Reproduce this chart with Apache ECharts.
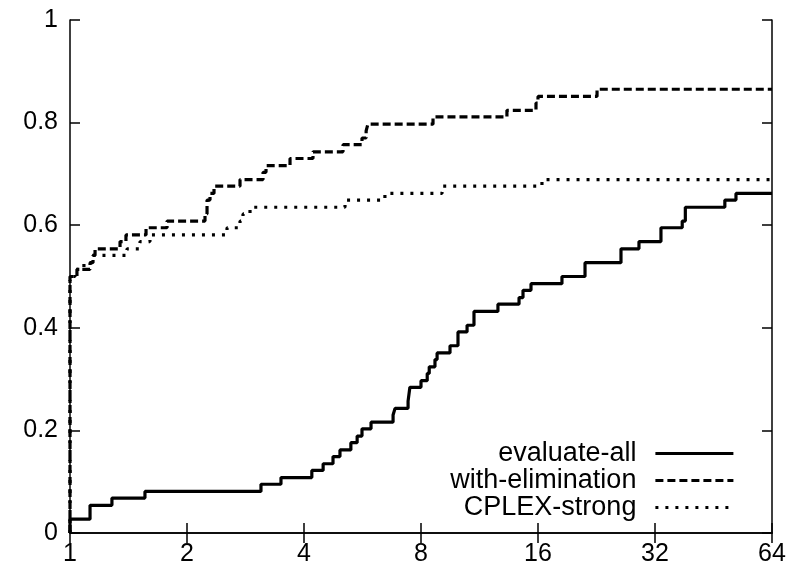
<!DOCTYPE html>
<html>
<head>
<meta charset="utf-8">
<script src="https://cdn.jsdelivr.net/npm/echarts@6/dist/echarts.min.js"></script>
<style>html,body{margin:0;padding:0;background:#fff}#c{width:796px;height:578px}</style>
</head>
<body>
<div id="c"></div>
<script>
// Performance-profile data (x = ratio, y = fraction of instances); each value holds from its x onward
const xTicks = [1, 2, 4, 8, 16, 32, 64];
const seriesNames = ['evaluate-all', 'with-elimination', 'CPLEX-strong'];

const evalAllX = [1, 1, 1.126, 1.282, 1.559, 3.10, 3.49, 4.19, 4.48, 4.75, 4.95, 5.28, 5.48, 5.64, 5.95, 6.78, 6.86, 7.41, 7.49, 8.0, 8.30, 8.40, 8.69, 8.80, 9.50, 9.96, 10.51, 10.95, 12.62, 14.30, 14.64, 15.35, 18.44, 21.14, 26.16, 29.10, 33.15, 37.6, 38.3, 48.4, 51.7, 64];
const evalAllY = [0, 0.027, 0.054, 0.068, 0.081, 0.095, 0.108, 0.122, 0.135, 0.149, 0.162, 0.176, 0.189, 0.203, 0.216, 0.230, 0.243, 0.257, 0.284, 0.297, 0.311, 0.324, 0.338, 0.351, 0.365, 0.392, 0.405, 0.432, 0.446, 0.459, 0.473, 0.486, 0.500, 0.527, 0.554, 0.568, 0.595, 0.608, 0.635, 0.649, 0.662, 0.662];

const elimX = [1, 1, 1.042, 1.126, 1.146, 1.160, 1.345, 1.393, 1.569, 1.777, 2.225, 2.252, 2.292, 2.347, 2.738, 3.138, 3.194, 3.682, 4.219, 5.04, 5.64, 5.78, 5.84, 8.59, 13.31, 15.81, 16.0, 22.7, 64];
const elimY = [0, 0.500, 0.514, 0.527, 0.541, 0.554, 0.568, 0.581, 0.595, 0.608, 0.622, 0.649, 0.662, 0.676, 0.689, 0.703, 0.716, 0.730, 0.743, 0.757, 0.770, 0.784, 0.797, 0.811, 0.824, 0.838, 0.851, 0.865, 0.865];

const cplexX = [1, 1, 1.030, 1.086, 1.139, 1.402, 1.514, 1.606, 2.535, 2.738, 2.787, 2.905, 5.10, 6.46, 9.06, 16.38, 64];
const cplexY = [0, 0.500, 0.514, 0.527, 0.541, 0.554, 0.568, 0.581, 0.595, 0.608, 0.622, 0.635, 0.649, 0.662, 0.676, 0.689, 0.689];

function zip(xs, ys) { return xs.map((x, i) => [x, ys[i]]); }

const FONT = 'Liberation Sans, Arial, sans-serif';
const axisLine = { show: true, lineStyle: { color: '#000', width: 1.5 } };
const tick = { show: true, inside: true, length: 10, lineStyle: { color: '#000', width: 1.5 } };

const chart = echarts.init(document.getElementById('c'), null, { renderer: 'canvas' });
chart.setOption({
  animation: false,
  backgroundColor: '#fff',
  grid: { left: 70, right: 24, top: 20, bottom: 45 },
  xAxis: [
    {
      type: 'log', logBase: 2, min: xTicks[0], max: xTicks[xTicks.length - 1], position: 'bottom',
      axisLine: axisLine, axisTick: tick, splitLine: { show: false }, minorTick: { show: false },
      axisLabel: { color: '#000', fontSize: 25, fontFamily: FONT, margin: 9, formatter: v => String(Math.round(v)) }
    },
    {
      type: 'log', logBase: 2, min: xTicks[0], max: xTicks[xTicks.length - 1], position: 'top',
      axisLine: axisLine, axisTick: tick, splitLine: { show: false }, axisLabel: { show: false }
    }
  ],
  yAxis: [
    {
      type: 'value', min: 0, max: 1, interval: 0.2, position: 'left',
      axisLine: axisLine, axisTick: tick, splitLine: { show: false },
      axisLabel: { color: '#000', fontSize: 25, fontFamily: FONT, margin: 12 }
    },
    {
      type: 'value', min: 0, max: 1, interval: 0.2, position: 'right',
      axisLine: axisLine, axisTick: tick, splitLine: { show: false }, axisLabel: { show: false }
    }
  ],
  legend: {
    orient: 'vertical', align: 'right', right: 61, top: 440, padding: 0, itemGap: 0,
    itemWidth: 78, itemHeight: 14,
    itemStyle: { color: 'rgba(0,0,0,0)', borderWidth: 0, opacity: 0 },
    lineStyle: { width: 3.2 },
    textStyle: { color: '#000', fontSize: 27, fontFamily: FONT, lineHeight: 27, padding: [0, 14, 0, 0] },
    data: seriesNames
  },
  series: [
    {
      name: seriesNames[0], type: 'line', step: 'end', symbol: 'none',
      data: zip(evalAllX, evalAllY),
      lineStyle: { color: '#000', width: 3.2, type: 'solid' }, itemStyle: { color: '#000' }
    },
    {
      name: seriesNames[1], type: 'line', step: 'end', symbol: 'none',
      data: zip(elimX, elimY),
      lineStyle: { color: '#000', width: 3.2, type: [8, 4] }, itemStyle: { color: '#000' }
    },
    {
      name: seriesNames[2], type: 'line', step: 'end', symbol: 'none',
      data: zip(cplexX, cplexY),
      lineStyle: { color: '#000', width: 3.2, type: [3, 7] }, itemStyle: { color: '#000' }
    }
  ]
});
</script>
</body>
</html>
